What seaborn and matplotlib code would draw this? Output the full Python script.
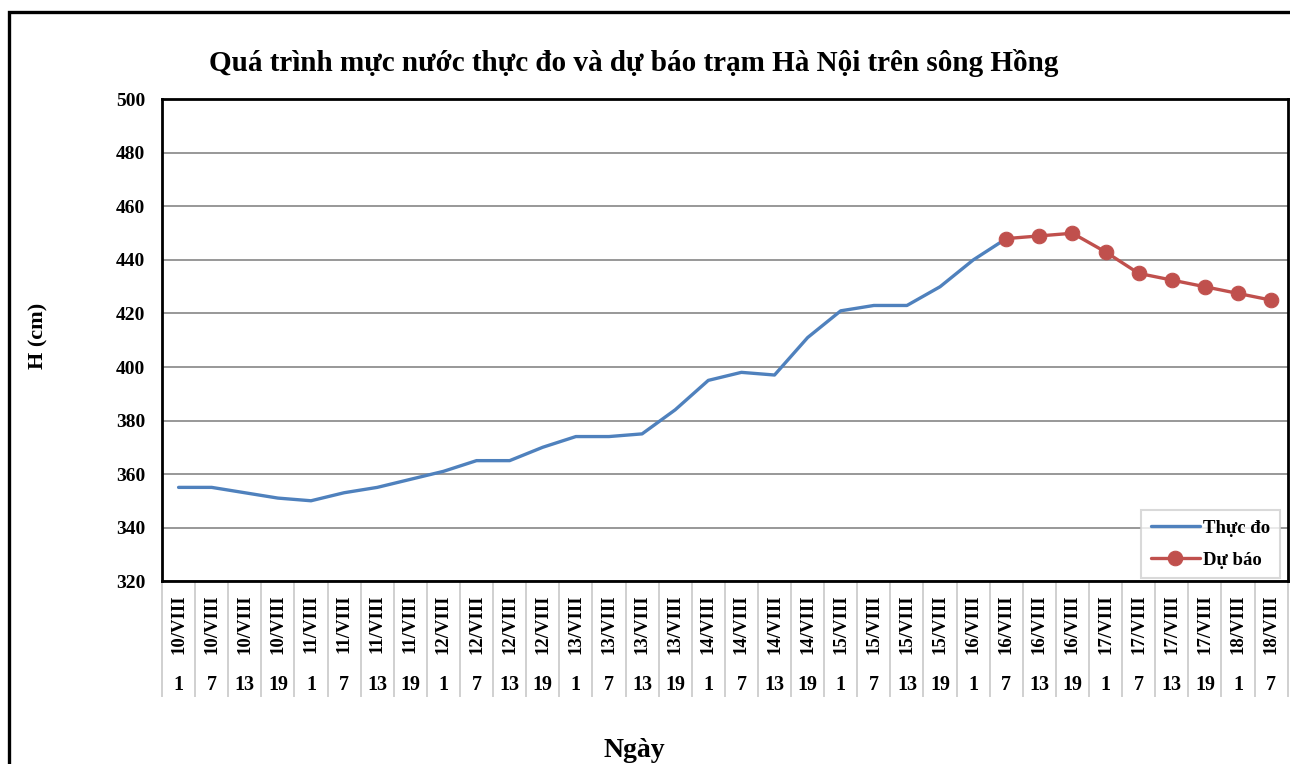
import matplotlib
matplotlib.use("Agg")
import matplotlib.pyplot as plt
from matplotlib.patches import Rectangle
import numpy as np
import pandas as pd
import seaborn as sns

# ---- data ----
days = ["10/VIII"] * 4 + ["11/VIII"] * 4 + ["12/VIII"] * 4 + ["13/VIII"] * 4 + \
       ["14/VIII"] * 4 + ["15/VIII"] * 4 + ["16/VIII"] * 4 + ["17/VIII"] * 4 + ["18/VIII"] * 2
hours = ["1", "7", "13", "19"] * 8 + ["1", "7"]
observed = [355, 355, 353, 351, 350, 353, 355, 358, 361, 365, 365, 370, 374, 374,
            375, 384, 395, 398, 397, 411, 421, 423, 423, 430, 440, 448]
forecast = [448, 449, 450, 443, 435, 432.5, 430, 427.5, 425]
forecast_start = len(observed) - 1
y_ticks = [320, 340, 360, 380, 400, 420, 440, 460, 480, 500]

title = "Quá trình mực nước thực đo và dự báo trạm Hà Nội trên sông Hồng"
ylabel = "H (cm)"
xlabel = "Ngày"
label_obs = "Thực đo"
label_fc = "Dự báo"

n = len(days)
df_obs = pd.DataFrame({"x": np.arange(len(observed)), "H": observed})
df_fc = pd.DataFrame({"x": np.arange(forecast_start, forecast_start + len(forecast)), "H": forecast})

sns.set_theme(style="white")
plt.rcParams["font.family"] = ["Liberation Serif", "DejaVu Serif"]
plt.rcParams["font.weight"] = "bold"
plt.rcParams["text.color"] = "black"
plt.rcParams["axes.labelcolor"] = "black"
plt.rcParams["xtick.color"] = "black"
plt.rcParams["ytick.color"] = "black"

fig = plt.figure(figsize=(12.9, 7.64), dpi=100)
ax = fig.add_axes([0.1256, 0.2395, 0.8726, 0.6303])

blue = "#4F81BD"
red = "#C0504D"

sns.lineplot(data=df_obs, x="x", y="H", ax=ax, color=blue, linewidth=2.4,
             label=label_obs, zorder=3)
sns.lineplot(data=df_fc, x="x", y="H", ax=ax, color=red, linewidth=2.4,
             marker="o", markersize=10.5, markeredgecolor=red, label=label_fc, zorder=4)

ax.set_xlim(-0.5, n - 0.5)
ax.set_ylim(y_ticks[0], y_ticks[-1])
ax.set_yticks(y_ticks)
ax.set_yticklabels([str(v) for v in y_ticks], fontsize=14, fontweight="bold", color="black")
ax.tick_params(axis="y", left=False, length=0, pad=12)
ax.yaxis.grid(True, color="#868686", linewidth=1.2)
ax.set_axisbelow(True)

# category boundaries as long tick marks forming the label table
boundaries = np.arange(n + 1) - 0.5
ax.set_xticks(boundaries)
ax.set_xticklabels([])
ax.tick_params(axis="x", bottom=True, direction="out", length=83.5, width=1.2, color="#C8C8C8")

for s in ax.spines.values():
    s.set_color("black")
    s.set_linewidth(2.0)

trans = ax.get_xaxis_transform()
for i, (d, h) in enumerate(zip(days, hours)):
    ax.text(i, -0.089, d, transform=trans, rotation=90, ha="center", va="center",
            fontsize=13.5, fontweight="bold", color="black")
    ax.text(i, -0.216, h, transform=trans, ha="center", va="center",
            fontsize=14.5, fontweight="bold", color="black")

ax.set_xlabel("")
ax.set_ylabel("")
fig.text(0.0295, 0.561, ylabel, rotation=90, ha="center", va="center",
         fontsize=16, fontweight="bold", color="black")
fig.text(0.4915, 0.018, xlabel, ha="center", va="center", fontsize=20,
         fontweight="bold", color="black")
fig.text(0.4915, 0.918, title, ha="center", va="center", fontsize=21,
         fontweight="bold", color="black")

leg = ax.legend(loc="lower right", bbox_to_anchor=(0.993, 0.006), fontsize=13.5,
                frameon=True, fancybox=False, borderpad=0.5, labelspacing=0.8,
                handlelength=2.6, handletextpad=0.2, borderaxespad=0)
leg.get_frame().set_edgecolor("#D0D0D0")
leg.get_frame().set_linewidth(1.5)
for t in leg.get_texts():
    t.set_fontweight("bold")
    t.set_color("black")

# outer frame
fig.add_artist(Rectangle((9 / 1290, -0.2), 1.2, 0.2 + 1 - 12 / 764, transform=fig.transFigure,
                         fill=False, edgecolor="black", linewidth=2.4, clip_on=False))

fig.savefig("out.png", dpi=100)
